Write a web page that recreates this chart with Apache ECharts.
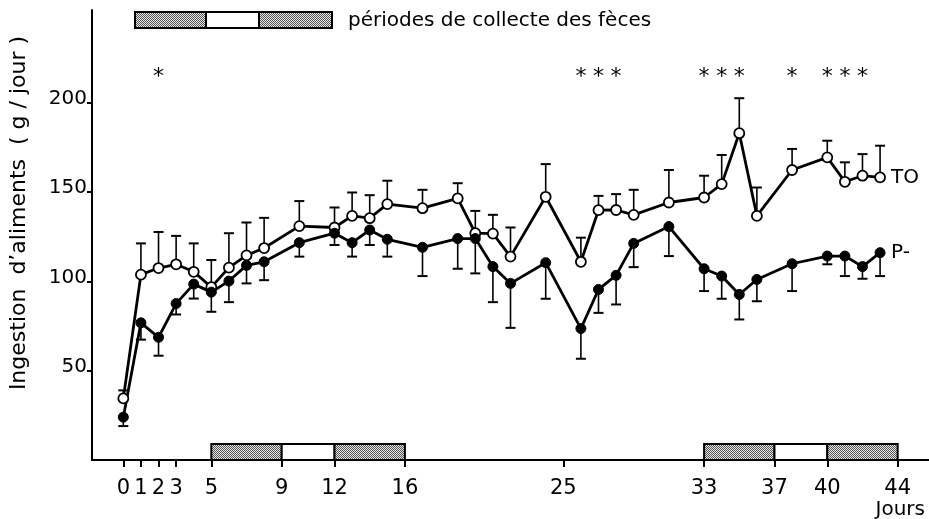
<!DOCTYPE html>
<html><head><meta charset="utf-8">
<script src="https://cdn.jsdelivr.net/npm/echarts@6/dist/echarts.min.js"></script>
<style>html,body{margin:0;padding:0;background:#fff}#c{width:929px;height:519px}</style>
</head><body><div id="c"></div>
<script>
// ---- data ----
const days    = [0,1,2,3,4,5,6,7,8,10,12,13,14,15,17,19,20,21,22,24,26,27,28,29,31,33,34,35,36,38,40,41,42,43];
const toMean  = [34.5,103.8,107.5,109.6,105.4,96.8,107.7,114.6,118.7,131,130.2,136.7,135.4,143.3,141,146.5,127,126.8,113.9,147.4,111,139.9,140,137.3,144.2,147,154.5,183,136.7,162.4,169.5,155.8,159.2,158.3];
const toUpper = [39,121.3,127.7,125.5,121.3,112,127,133,135.6,145,141.4,149.8,148.3,156.4,151.3,155,139.5,137.3,130.2,165.7,124.5,147.9,148.9,151.3,162.4,159.2,170.8,202.6,152.6,174.2,178.8,166.7,171.3,176];
const pMean   = [24,76.8,68.7,87.6,98.5,94,100.2,109,111,121.7,127,121.7,128.8,123.6,119.1,124,124,108.3,98.9,110.5,73.6,95.5,103.4,121.3,130.7,107.1,103,92.7,101.1,109.9,114.2,114.2,108.3,116.1];
const pLower  = [19,67.4,58.4,81.5,90.4,83,88.4,98.9,100.7,113.9,120.4,113.9,120.4,113.9,103,107.1,104.5,88.4,74,90.3,56.7,82.4,87.1,108,114.2,94.6,90.3,78.7,88.9,94.6,109.6,103,101.5,103];
const xTicks  = [0,1,2,3,5,9,12,16,25,33,37,40,44];
const yTicks  = [50,100,150,200];
const starDays = [2,26,27,28,33,34,35,38,40,41,42];
const starLevel = 218.5;
const periodStart  = [5,9,12,33,37,40];
const periodEnd    = [9,12,16,37,40,44];
const periodShaded = [1,0,1,1,0,1];
const periodHeight = 9;
const seriesNames = ['TO','P-'];
const legendText = 'périodes de collecte des fèces';
const yTitle = 'Ingestion  d’aliments  ( g / jour )';
const xTitle = 'Jours';

// ---- styling ----
const FONT = '"DejaVu Sans", Arial, sans-serif';
function makePattern(){
  const c = document.createElement('canvas'); c.width = 2; c.height = 2;
  const g = c.getContext('2d');
  g.fillStyle = '#e6e6e6'; g.fillRect(0,0,2,2);
  g.fillStyle = '#555555'; g.fillRect(0,0,1,1); g.fillRect(1,1,1,1);
  return c;
}
const pat = {image: makePattern(), repeat: 'repeat'};

const chart = echarts.init(document.getElementById('c'), null, {renderer:'canvas'});

function errRender(params, api){
  const x = api.value(0), y0 = api.value(1), y1 = api.value(2);
  const p0 = api.coord([x, y0]), p1 = api.coord([x, y1]);
  return {type:'group', children:[
    {type:'line', shape:{x1:p0[0], y1:p0[1], x2:p1[0], y2:p1[1]}, style:{stroke:'#000', lineWidth:1.6}},
    {type:'line', shape:{x1:p1[0]-5, y1:p1[1], x2:p1[0]+5, y2:p1[1]}, style:{stroke:'#000', lineWidth:2}}
  ]};
}

const option = {
  animation: false,
  backgroundColor: '#fff',
  grid: {left: 92, right: 0, top: 10, bottom: 59, containLabel: false},
  xAxis: {
    type: 'value', min: -1.78, max: 45.78,
    axisLine: {show: true, onZero: false, lineStyle: {color: '#000', width: 2}},
    axisTick: {show: true, customValues: xTicks, length: 7, lineStyle: {color:'#000', width: 2}},
    axisLabel: {show: true, customValues: xTicks, margin: 18, color: '#000', fontSize: 21, fontFamily: FONT},
    splitLine: {show: false}
  },
  yAxis: {
    type: 'value', min: 0, max: 252,
    axisLine: {show: true, onZero: false, lineStyle: {color: '#000', width: 2}},
    axisTick: {show: true, customValues: yTicks, length: 5, lineStyle: {color:'#000', width: 2}},
    axisLabel: {show: true, customValues: yTicks, margin: 5, color: '#000', fontSize: 20, fontFamily: FONT, verticalAlign: 'bottom', padding:[0,0,-6,0]},
    splitLine: {show: false}
  },
  graphic: [
    {type:'rect', shape:{x:135, y:12, width:71, height:16}, style:{fill:pat, stroke:'#000', lineWidth:2}},
    {type:'rect', shape:{x:206, y:12, width:53, height:16}, style:{fill:'#fff', stroke:'#000', lineWidth:2}},
    {type:'rect', shape:{x:259, y:12, width:73, height:16}, style:{fill:pat, stroke:'#000', lineWidth:2}},
    {type:'text', x:348, y:21, style:{text: legendText, font:'20px ' + FONT, fill:'#000', textAlign:'left', textVerticalAlign:'middle'}},
    {type:'text', x:19, y:213, rotation: Math.PI/2, style:{text: yTitle, font:'22px ' + FONT, fill:'#000', textAlign:'center', textVerticalAlign:'middle'}},
    {type:'text', x:925, y:510, style:{text: xTitle, font:'20px ' + FONT, fill:'#000', textAlign:'right', textVerticalAlign:'middle'}}
  ],
  series: [
    {
      type: 'custom', name: 'periods', z: 1, silent: true,
      data: periodStart.map((s,i)=>[s, periodEnd[i], periodShaded[i]]),
      renderItem: function(params, api){
        const s = api.value(0), e = api.value(1), sh = api.value(2);
        const a = api.coord([s, periodHeight]), b = api.coord([e, 0]);
        return {type:'rect', shape:{x:a[0], y:a[1], width:b[0]-a[0], height:b[1]-a[1]},
          style:{fill: sh ? pat : '#fff', stroke:'#000', lineWidth:2}};
      }
    },
    {
      type: 'custom', name: 'TO err', z: 2, silent: true,
      data: days.map((d,i)=>[d, toMean[i], toUpper[i]]),
      renderItem: errRender
    },
    {
      type: 'custom', name: 'P- err', z: 2, silent: true,
      data: days.map((d,i)=>[d, pMean[i], pLower[i]]),
      renderItem: errRender
    },
    {
      type: 'line', name: seriesNames[0], z: 3,
      data: days.map((d,i)=>[d, toMean[i]]),
      symbol: 'circle', symbolSize: 10, showAllSymbol: true,
      lineStyle: {color:'#000', width: 2.8},
      itemStyle: {color:'#fff', borderColor:'#000', borderWidth: 1.8},
      endLabel: {show: true, formatter: seriesNames[0], distance: 11, color:'#000', fontSize: 20, fontFamily: FONT}
    },
    {
      type: 'line', name: seriesNames[1], z: 3,
      data: days.map((d,i)=>[d, pMean[i]]),
      symbol: 'circle', symbolSize: 10, showAllSymbol: true,
      lineStyle: {color:'#000', width: 2.8},
      itemStyle: {color:'#000', borderColor:'#000', borderWidth: 1},
      endLabel: {show: true, formatter: seriesNames[1], distance: 11, color:'#000', fontSize: 20, fontFamily: FONT}
    },
    {
      type: 'custom', name: 'stars', z: 3, silent: true,
      data: starDays.map(d=>[d, starLevel]),
      renderItem: function(params, api){
        const p = api.coord([api.value(0), api.value(1)]);
        return {type:'text', x:p[0], y:p[1]+7, style:{text:'*', font:'22px ' + FONT, fill:'#000', textAlign:'center', textVerticalAlign:'middle'}};
      }
    }
  ]
};
chart.setOption(option);
</script>
</body></html>
